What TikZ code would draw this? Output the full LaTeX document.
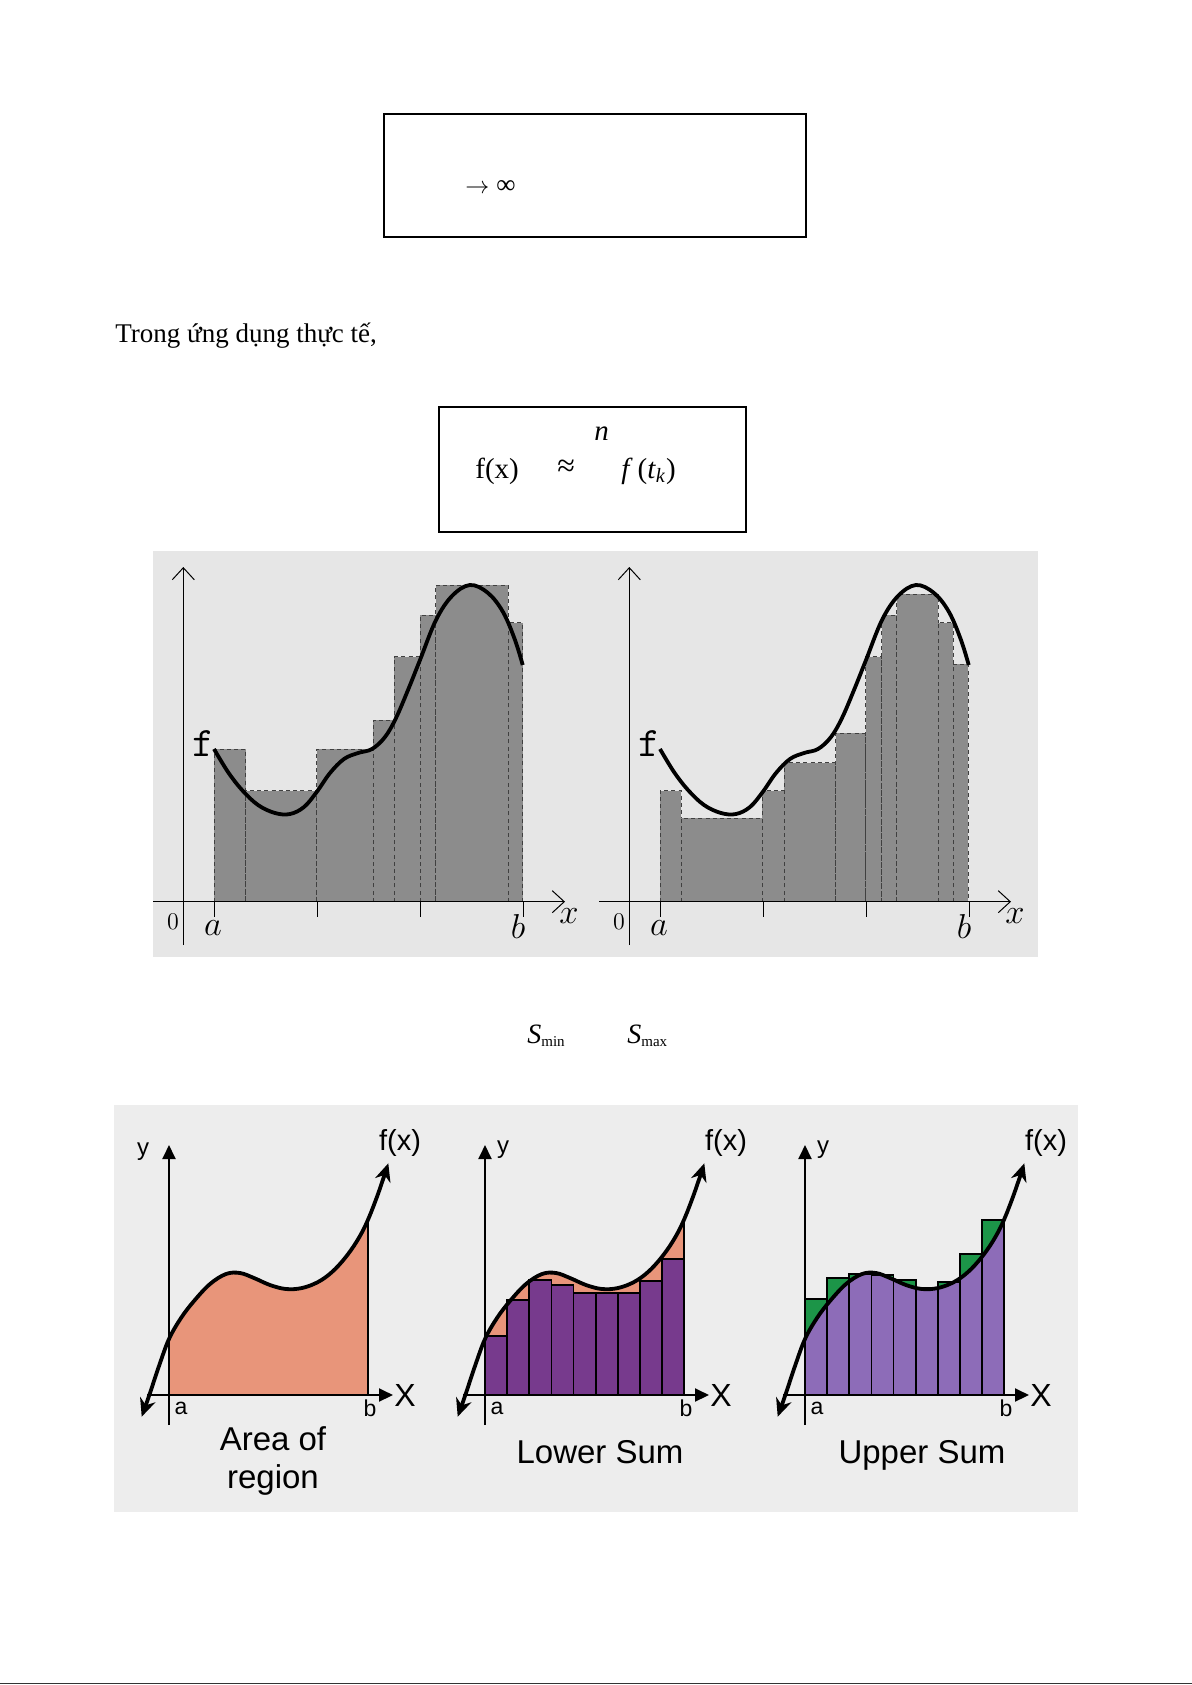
\documentclass[tikz,border=0pt]{standalone}
\usepackage[no-math]{fontspec}
\setmainfont{Liberation Serif}
\newfontfamily\sansfont{Liberation Sans}
\usetikzlibrary{arrows.meta}

\definecolor{panelgray}{HTML}{E6E6E6}
\definecolor{barfill}{HTML}{8C8C8C}
\definecolor{lightpanel}{HTML}{EDEDED}
\definecolor{areaorange}{HTML}{E8957A}
\definecolor{lowpurple}{HTML}{773A8D}
\definecolor{uppurple}{HTML}{8D6CB8}
\definecolor{sumgreen}{HTML}{1C9548}

\tikzset{
  framebox/.style={draw=black, line width=1pt},
  riemannbar/.style={fill=barfill, draw=black!75, dash pattern=on 2pt off 1.6pt, line width=0.45pt},
  thinaxis/.style={line width=0.5pt, -{Straight Barb[length=6pt,width=11pt]}},
  graycurve/.style={line width=1.9pt},
  boldaxis/.style={line width=1pt, -{Triangle[length=7pt,width=6.5pt]}},
  sumcurve/.style={line width=1.9pt, {Stealth[length=9pt,width=8pt]}-{Stealth[length=9pt,width=8pt]}},
  sumbar/.style={draw=black, line width=0.9pt},
  sumlabel/.style={font=\sansfont\fontsize{11.5}{13}\selectfont},
  bigtext/.style={inner sep=0pt, font=\fontsize{13.5}{16}\selectfont},
}

% the two curves, in the coordinates of the left-hand plots
\def\hillcurve{plot[smooth,tension=0.6] coordinates {(214,749) (228,772) (242,790) (258,805) (275,813) (290,814) (304,807) (316.7,792) (330,773) (344,759) (358,753) (372,749) (385,737) (396,718) (408,690) (420,660) (436,620) (452,596) (470,585) (488,593) (503,612) (515,640) (522.7,665)}}
\def\cubiccurve{plot[smooth,tension=0.6] coordinates {(141.7,1416.7) (150,1393) (159,1366) (169,1339) (181,1318) (194,1301) (210,1284) (226,1274) (240,1273) (254,1278) (270,1285) (286,1289) (302,1288) (318,1282) (332,1272) (345,1258) (357,1241) (367,1222) (378,1194) (388.3,1163.3)}}

\begin{document}
\begin{tikzpicture}[x=0.5pt,y=-0.5pt]
\useasboundingbox (0,0) rectangle (1192,1685);
\fill[white] (0,0) rectangle (1192,1685);
\draw[black!80, line width=0.8pt] (0,1683.5) -- (1192,1683.5);

% formula boxes
\draw[framebox] (384,114) rectangle (806,237);
\node[bigtext, anchor=base west] (limit) at (465,194) {\fontsize{12.5}{15}\selectfont$\rightarrow$\hspace{3.5pt}\fontsize{13.5}{16}\selectfont∞};

\node[bigtext, anchor=base west] (intro) at (115,342) {Trong ứng dụng thực tế,};

\draw[framebox] (439,407) rectangle (746,532);
\node[bigtext, font=\fontsize{14.5}{17}\selectfont, anchor=base west] (fx) at (475,478) {f(x)};
\node[bigtext, font=\fontsize{16}{18}\selectfont, anchor=base west] (approx) at (557,476) {≈};
\node[bigtext, font=\fontsize{14.5}{17}\selectfont, anchor=base west] (upn) at (594,440) {\itshape n};
\node[bigtext, font=\fontsize{14.5}{17}\selectfont, anchor=base west] (ftk) at (621,478) {\textit{f}\,(\textit{t}\textsubscript{\textit{k}})};

% riemann sums, gray panel
\fill[panelgray] (153,551) rectangle (1038,957);
\foreach \l/\r/\t in {214/245.7/749, 245.7/316.7/790.7, 316.7/373.3/749, 373.3/394.3/720, 394.3/420/656.7, 420/435.7/615.3, 435.7/508.3/585, 508.3/522.7/622.7}
  \draw[riemannbar] (\l,901.7) rectangle (\r,\t);
\foreach \l/\r/\t in {660/681/790.7, 681/762.3/818.3, 762.3/784/790.7, 784/835.7/762.7, 835.7/865.7/733.3, 865.7/881.7/656.7, 881.7/896.7/615.3, 896.7/938.3/594.3, 938.3/953.3/622.7, 953.3/968.3/664}
  \draw[riemannbar] (\l,901.7) rectangle (\r,\t);

\foreach \s in {0,446} {
  \begin{scope}[shift={(\s,0)}]
    \draw[thinaxis] (153,901.7) -- (565,901.7);
    \draw[thinaxis] (183.3,945) -- (183.3,567);
    \foreach \x in {214,317,420,523} \draw[line width=0.5pt] (\x,901.7) -- (\x,917);
    \draw[graycurve] \hillcurve;
    \node[font=\fontsize{12}{14}\selectfont] (zero\s) at (173,922) {$0$};
    \node[font=\fontsize{17}{20}\selectfont] (a\s) at (213,928) {$a$};
    \node[font=\fontsize{17}{20}\selectfont] (b\s) at (518,926) {$b$};
    \node[font=\fontsize{17}{20}\selectfont] (x\s) at (569,916) {$x$};
    \node[font=\fontsize{21}{24}\selectfont\ttfamily] (f\s) at (203,744) {f};
  \end{scope}
}

% S_min and S_max
\node[bigtext, font=\fontsize{14}{16}\selectfont, anchor=base west] (smin) at (527,1043) {\textit{S}\raisebox{-1.5pt}{\fontsize{7.5}{8}\selectfont min}};
\node[bigtext, font=\fontsize{14}{16}\selectfont, anchor=base west] (smax) at (627,1043) {\textit{S}\raisebox{-1.5pt}{\fontsize{7.5}{8}\selectfont max}};

% area, lower sum, upper sum
\fill[lightpanel] (114,1105) rectangle (1078,1512);

\begin{scope}
  \clip (169,1395) rectangle (368.3,1100);
  \fill[areaorange] \cubiccurve -- (400,1395) -- (140,1395) -- cycle;
\end{scope}
\draw[line width=0.9pt] (368.3,1395) -- (368.3,1221);

\begin{scope}[shift={(316,0)}]
  \begin{scope}
    \clip (169,1395) rectangle (368.3,1100);
    \fill[areaorange] \cubiccurve -- (400,1395) -- (140,1395) -- cycle;
  \end{scope}
  \draw[line width=0.9pt] (368.3,1395) -- (368.3,1221);
  \foreach \i/\t in {0/1336,1/1300,2/1280,3/1285,4/1292.7,5/1292.7,6/1292.7,7/1281,8/1259.3}
    \draw[sumbar, fill=lowpurple] ({169+22.14*\i},1395) rectangle ({191.14+22.14*\i},\t);
\end{scope}

\begin{scope}[shift={(636,0)}]
  \foreach \i/\t in {0/1299,1/1278,2/1274,3/1275,4/1280,5/1288,6/1282,7/1254,8/1220}
    \fill[sumgreen] ({169+22.14*\i},1395) rectangle ({191.14+22.14*\i},\t);
  \begin{scope}
    \clip (169,1395) rectangle (368.3,1100);
    \fill[uppurple] \cubiccurve -- (400,1395) -- (140,1395) -- cycle;
  \end{scope}
  \foreach \i/\t in {0/1299,1/1278,2/1274,3/1275,4/1280,5/1288,6/1282,7/1254,8/1220}
    \draw[sumbar] ({169+22.14*\i},1395) rectangle ({191.14+22.14*\i},\t);
\end{scope}

\foreach \s/\fx in {0/400,316/410,636/410} {
  \begin{scope}[shift={(\s,0)}]
    \draw[boldaxis] (147,1395) -- (393,1395);
    \draw[boldaxis] (169,1425) -- (169,1145);
    \draw[sumcurve] \cubiccurve;
    \node[sumlabel] (ta\s) at (181,1408) {a};
    \node[sumlabel] (tb\s) at (370,1408) {b};
    \node[font=\sansfont\fontsize{16}{18}\selectfont] (tx\s) at (405,1395) {X};
    \node[font=\sansfont\fontsize{14.5}{16}\selectfont] (tf\s) at (\fx,1143) {f(x)};
  \end{scope}
}
\node[font=\sansfont\fontsize{12}{14}\selectfont] (ty1) at (143,1152) {y};
\node[font=\sansfont\fontsize{12}{14}\selectfont] (ty2) at (503,1150) {y};
\node[font=\sansfont\fontsize{12}{14}\selectfont] (ty3) at (823,1150) {y};

\node[align=center, font=\sansfont\fontsize{16.5}{19}\selectfont] (cap1) at (273,1461) {Area of\\region};
\node[anchor=base, font=\sansfont\fontsize{16.5}{18}\selectfont] (cap2) at (600,1463) {Lower Sum};
\node[anchor=base, font=\sansfont\fontsize{16.5}{18}\selectfont] (cap3) at (922,1463) {Upper Sum};
\end{tikzpicture}
\end{document}
